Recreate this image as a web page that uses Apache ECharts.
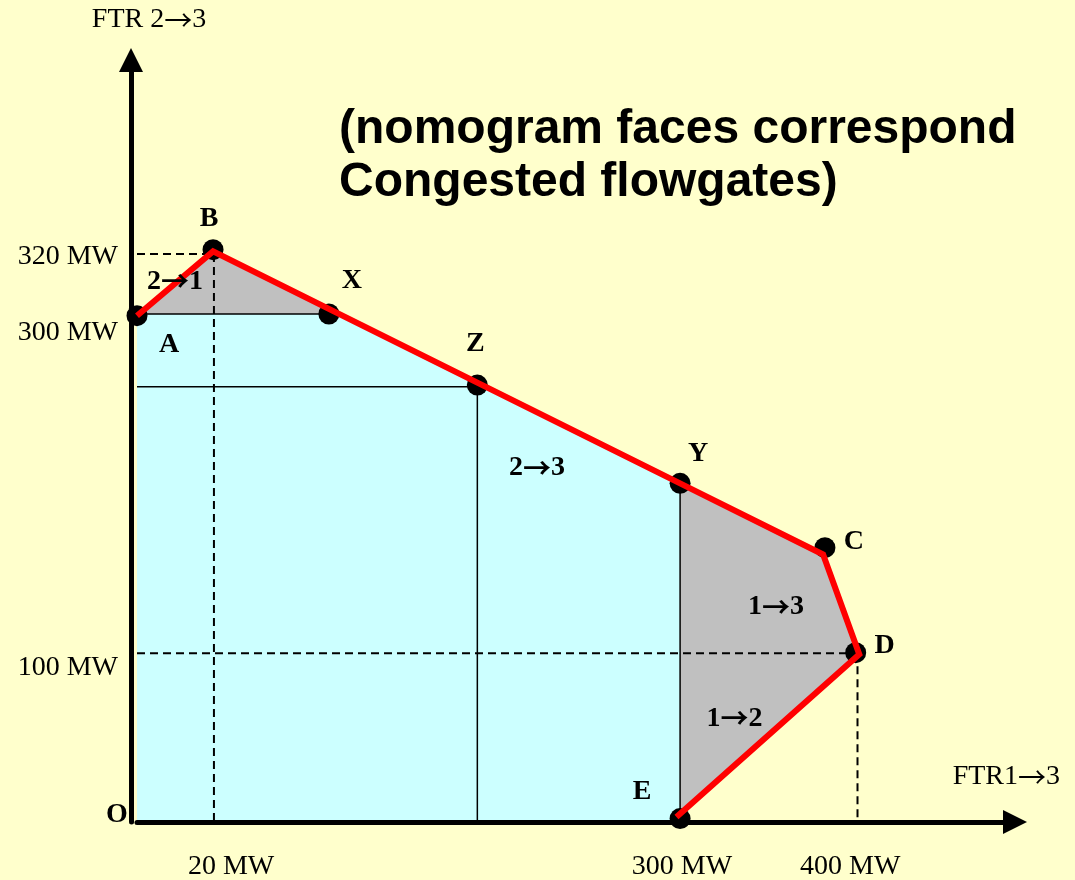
<!DOCTYPE html>
<html>
<head>
<meta charset="utf-8">
<script src="https://cdn.jsdelivr.net/npm/echarts@6/dist/echarts.min.js"></script>
<style>
html,body{margin:0;padding:0;background:#FFFFCC;}
#chart{width:1075px;height:880px;}
</style>
</head>
<body>
<div id="chart"></div>
<script>
// ---- Data (schematic diagram units, MW-like scale of the drawing) ----
const pointNames = ['A', 'B', 'X', 'Z', 'Y', 'C', 'D', 'E'];
const pointX = [0, 42, 106, 188, 300, 380, 397, 300];
const pointY = [299, 338, 300, 258, 200, 162, 100, 2];

// feasible-region boundary (red)
const boundaryX = [0, 42, 300, 379, 399, 298];
const boundaryY = [299, 337, 200, 158, 99, 3];

// faces
const cyanX = [0, 0, 111, 300, 300];
const cyanY = [0, 300, 300, 200, 0];
const grayTopX = [0, 42, 111];
const grayTopY = [300, 337, 300];
const grayRightX = [300, 379, 399, 298, 300];
const grayRightY = [200, 158, 99, 3, 0];

// internal face borders (solid) and reference lines (dashed)
const solidLinesX = [[0, 106], [0, 188], [188, 188], [300, 300]];
const solidLinesY = [[300, 300], [257, 257], [257, 0], [200, 0]];
const dashedLinesX = [[0, 42.5], [42.5, 42.5], [0, 398], [398, 398]];
const dashedLinesY = [[335.5, 335.5], [335.5, 0], [99.6, 99.6], [99.6, 0]];

// face labels (congested flowgates)
const faceNames = ['2→1', '2→3', '1→3', '1→2'];
const faceX = [21, 221, 353, 330];
const faceY = [319, 209, 127, 61];

// tick labels
const xTickText = ['20 MW', '300 MW', '400 MW'];
const xTickAt = [52, 301, 394];
const yTickText = ['320 MW', '300 MW', '100 MW'];
const yTickAt = [334, 289, 91];

// ---- Chart ----
const serif = 'Liberation Serif, Times New Roman, serif';
const arrowFont = 'Noto Sans CJK JP, Noto Sans CJK SC, DejaVu Sans, sans-serif';
const labelOffsets = {
  A: [32, 29], B: [-4, -31], X: [23, -33], Z: [-2, -41],
  Y: [18, -30], C: [29, -6], D: [29, -7], E: [-38, -27]
};
const withArrow = s => s.replace(/→/g, '{a|→}');

function pts(api, xs, ys) {
  return xs.map((x, i) => api.coord([x, ys[i]]));
}

const boldLabel = {
  show: true, position: 'inside',
  color: '#000', fontFamily: serif, fontWeight: 'bold', fontSize: 28, lineHeight: 30,
  align: 'center', verticalAlign: 'middle',
  rich: { a: { color: '#000', fontFamily: arrowFont, fontWeight: 'bold', fontSize: 28, lineHeight: 30 } }
};

const series = [];

series.push({
  type: 'custom',
  silent: true,
  z: 1,
  data: [[0, 0]],
  renderItem: function (params, api) {
    return {
      type: 'group',
      children: [
        { type: 'polygon', shape: { points: pts(api, cyanX, cyanY) }, style: { fill: '#CCFFFF' } },
        { type: 'polygon', shape: { points: pts(api, grayTopX, grayTopY) }, style: { fill: '#C0C0C0' } },
        { type: 'polygon', shape: { points: pts(api, grayRightX, grayRightY) }, style: { fill: '#C0C0C0' } }
      ]
    };
  }
});

solidLinesX.forEach((xs, k) => {
  series.push({
    type: 'line', silent: true, z: 2, symbol: 'none',
    data: xs.map((x, i) => [x, solidLinesY[k][i]]),
    lineStyle: { color: '#000', width: 1.5 }
  });
});

dashedLinesX.forEach((xs, k) => {
  series.push({
    type: 'line', silent: true, z: 3, symbol: 'none',
    data: xs.map((x, i) => [x, dashedLinesY[k][i]]),
    lineStyle: { color: '#000', width: 2, type: [8, 5] }
  });
});

series.push({
  type: 'scatter', silent: true, z: 4,
  symbolSize: 21,
  itemStyle: { color: '#000', opacity: 1 },
  data: pointNames.map((n, i) => ({
    name: n,
    value: [pointX[i], pointY[i]],
    label: { offset: labelOffsets[n] }
  })),
  label: Object.assign({}, boldLabel, { formatter: '{b}' })
});

series.push({
  type: 'line', silent: true, z: 5, symbol: 'none',
  data: boundaryX.map((x, i) => [x, boundaryY[i]]),
  lineStyle: { color: '#FF0000', width: 6, join: 'miter', opacity: 1 }
});

series.push({
  type: 'scatter', silent: true, z: 6,
  symbolSize: 0,
  itemStyle: { opacity: 1 },
  data: faceNames.map((n, i) => ({ name: n, value: [faceX[i], faceY[i]] })),
  label: Object.assign({}, boldLabel, { formatter: p => withArrow(p.name) })
});

// origin label
series.push({
  type: 'scatter', silent: true, z: 6,
  symbolSize: 0,
  itemStyle: { opacity: 1 },
  data: [{ name: 'O', value: [0, 0] }],
  label: Object.assign({}, boldLabel, { formatter: '{b}', offset: [-20, -7] })
});

const option = {
  backgroundColor: '#FFFFCC',
  animation: false,
  title: {
    text: '(nomogram faces correspond\nCongested flowgates)',
    left: 339, top: 103, padding: 0,
    textStyle: {
      fontFamily: 'Liberation Sans, Arial, sans-serif', fontWeight: 'bold',
      fontSize: 48, lineHeight: 53, color: '#000'
    }
  },
  grid: { left: 137, right: 60, top: 60, bottom: 58, containLabel: false, outerBoundsMode: 'none' },
  xAxis: {
    type: 'value', min: 0, max: 485, z: 10,
    splitLine: { show: false }, axisTick: { show: false },
    axisLine: {
      show: true, onZero: true,
      symbol: ['none', 'triangle'], symbolSize: [24, 24],
      lineStyle: { color: '#000', width: 5 }
    },
    axisLabel: {
      customValues: xTickAt,
      formatter: v => xTickText[xTickAt.indexOf(v)] || '',
      margin: 31, color: '#000', fontFamily: serif, fontSize: 28
    },
    name: withArrow('FTR1→3'), nameLocation: 'end', nameGap: 45,
    nameTextStyle: {
      color: '#000', fontFamily: serif, fontSize: 28, lineHeight: 30,
      align: 'right', verticalAlign: 'bottom', padding: [0, 0, 30, 0],
      rich: { a: { color: '#000', fontFamily: arrowFont, fontSize: 28, lineHeight: 30 } }
    }
  },
  yAxis: {
    type: 'value', min: 0, max: 450, offset: 6, z: 10,
    splitLine: { show: false }, axisTick: { show: false },
    axisLine: {
      show: true, onZero: false,
      symbol: ['none', 'triangle'], symbolSize: [24, 24],
      lineStyle: { color: '#000', width: 5 }
    },
    axisLabel: {
      customValues: yTickAt,
      formatter: v => yTickText[yTickAt.indexOf(v)] || '',
      margin: 13, color: '#000', fontFamily: serif, fontSize: 28
    },
    name: withArrow('FTR 2→3'), nameLocation: 'end', nameGap: 25,
    nameTextStyle: {
      color: '#000', fontFamily: serif, fontSize: 28, lineHeight: 30,
      padding: [0, 0, 0, 36],
      rich: { a: { color: '#000', fontFamily: arrowFont, fontSize: 28, lineHeight: 30 } }
    }
  },
  series: series
};

const chart = echarts.init(document.getElementById('chart'), null, { renderer: 'canvas' });
chart.setOption(option);
</script>
</body>
</html>
